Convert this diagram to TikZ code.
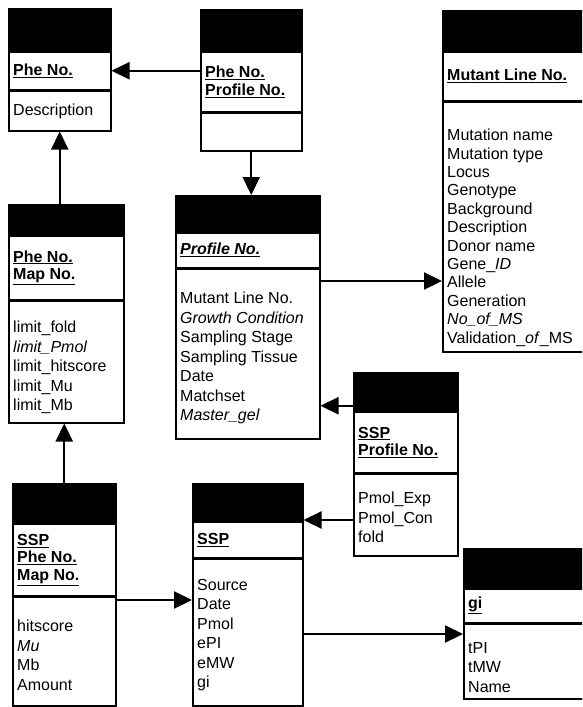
\documentclass[tikz,border=0pt]{standalone}
\usepackage{fontspec}
\setmainfont{Liberation Sans}
\usetikzlibrary{positioning, arrows.meta}

\tikzset{
  hdr/.style={draw, fill=black, line width=1.5pt, inner sep=0pt},
  sect/.style={draw, line width=1.5pt, inner sep=0pt},
  keytxt/.style={inner sep=0pt, align=left, font=\fontsize{16}{17.5}\selectfont},
  attrtxt/.style={inner sep=0pt, align=left, font=\fontsize{16}{19.5}\selectfont},
  conn/.style={line width=2.2pt, -{Triangle[length=18pt,width=17pt]}},
}
\newcommand{\ky}[1]{\underline{\textbf{#1}}}
% table: name, corner, width, header/key/attr heights, attr text options, keys, attrs
\newcommand{\ertable}[9]{%
  \node[hdr, minimum width=#3, minimum height=#4, anchor=north west] (#1) at (#2) {};
  \node[sect, minimum width=#3, minimum height=#5, below=0pt of #1] (#1k) {};
  \node[sect, minimum width=#3, minimum height=#6, below=0pt of #1k] (#1a) {};
  \node[keytxt, anchor=west] (#1kt) at ([xshift=5pt]#1k.west) {#8};
  \node[attrtxt, anchor=north west, #7] (#1at) at ([xshift=5pt]#1a.north west) {#9};
}

\begin{document}
\begin{tikzpicture}[x=1pt, y=-1pt]
\useasboundingbox (0,0) rectangle (582,707);
\clip (0,0) rectangle (582,707);

\ertable{phe}{8,8}{102pt}{42pt}{37pt}{40pt}{yshift=-14pt}
  {\ky{Phe No.}}{Description}
\ertable{pheprof}{200,9}{101pt}{41pt}{59pt}{38pt}{yshift=-14pt}
  {\ky{Phe No.}\\\ky{Profile No.}}{}
\ertable{mutant}{442,10}{150pt}{40pt}{48pt}{250pt}{yshift=-28pt, font=\fontsize{16}{18.4}\selectfont}
  {\ky{Mutant Line No.}}
  {Mutation name\\Mutation type\\Locus\\Genotype\\Background\\Description\\Donor name\\Gene\_\textit{ID}\\Allele\\Generation\\\textit{No\_of\_MS}\\Validation\_\textit{of}\_MS}
\ertable{phemap}{8,204}{115pt}{30pt}{63pt}{122pt}{yshift=-21pt}
  {\ky{Phe No.}\\\ky{Map No.}}
  {limit\_fold\\\textit{limit\_Pmol}\\limit\_hitscore\\limit\_Mu\\limit\_Mb}
\ertable{profile}{175,195}{144pt}{36pt}{34pt}{170pt}{yshift=-24pt}
  {\ky{\textit{Profile No.}}}
  {Mutant Line No.\\\textit{Growth Condition}\\Sampling Stage\\Sampling Tissue\\Date\\Matchset\\\textit{Master\_gel}}
\ertable{sspprof}{353,372}{104pt}{38pt}{60pt}{82pt}{yshift=-19pt}
  {\ky{SSP}\\\ky{Profile No.}}
  {Pmol\_Exp\\Pmol\_Con\\fold}
\ertable{ssp}{192,483}{110pt}{37pt}{35pt}{147pt}{yshift=-21pt}
  {\ky{SSP}}
  {Source\\Date\\Pmol\\ePI\\eMW\\gi}
\ertable{sspphe}{12,483}{103pt}{39pt}{71pt}{109pt}{yshift=-24pt}
  {\ky{SSP}\\\ky{Phe No.}\\\ky{Map No.}}
  {hitscore\\\textit{Mu}\\Mb\\Amount}
\ertable{gi}{463,548}{130pt}{39pt}{33pt}{75pt}{yshift=-19pt}
  {\ky{gi}}
  {tPI\\tMW\\Name}

% connectors
\coordinate (e2c) at ([yshift=-13pt]profilea.north east);
\coordinate (f2e) at ([yshift=-14pt]sspprof.west);
\coordinate (f2g) at ([yshift=-47pt]sspprofa.north west);
\coordinate (h2g) at ([yshift=-4pt]sspphea.north east);
\coordinate (g2i) at ([yshift=-76pt]sspa.north east);

\draw[conn] (pheprofk.west |- phek.east) -- (phek.east);
\draw[conn] (pheprofa.south) -- (pheprofa.south |- profile.north);
\draw[conn] (e2c) -- (e2c -| mutanta.west);
\draw[conn] (f2e) -- (f2e -| profilea.east);
\draw[conn] (f2g) -- (f2g -| ssp.east);
\draw[conn] (h2g) -- (h2g -| sspa.west);
\draw[conn] (g2i) -- (g2i -| gia.west);
\draw[conn] (sspphe.north) -- (sspphe.north |- phemapa.south);
\draw[conn] (phemap.north -| phea.south) -- (phea.south);
\end{tikzpicture}
\end{document}
